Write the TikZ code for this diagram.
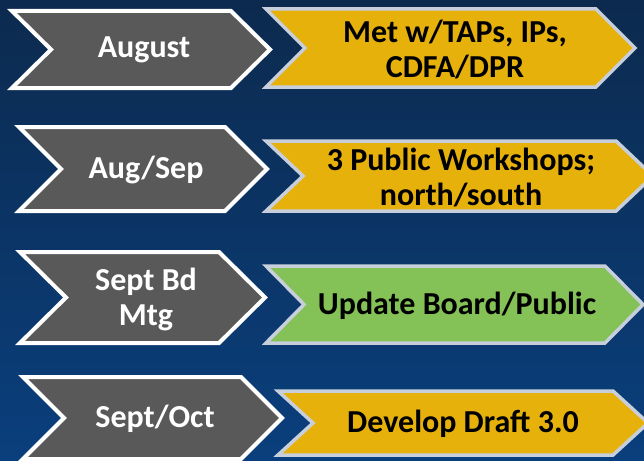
\documentclass[tikz,border=0pt]{standalone}
\usepackage{fontspec}
\setmainfont{Carlito}
\definecolor{bgtop}{HTML}{0C2A4E}
\definecolor{bgbot}{HTML}{0A3F7D}
\definecolor{chevgray}{HTML}{595959}
\definecolor{chevyellow}{HTML}{E6B10B}
\definecolor{chevgreen}{HTML}{84C156}
\definecolor{chevedge}{HTML}{C6CFDB}
\newcommand\chevshape[6]{%
  \draw[#1] (#2,#3) -- (#4-#6,#3) -- (#4,{(#3+#5)/2}) -- (#4-#6,#5) -- (#2,#5) -- (#2+#6,{(#3+#5)/2}) -- cycle;}
\begin{document}
\begin{tikzpicture}[x=1pt,y=-1pt,
  graychev/.style={fill=chevgray,draw=white,line width=4pt,miter limit=10},
  yellowchev/.style={fill=chevyellow,draw=chevedge,line width=3.5pt,miter limit=10},
  greenchev/.style={fill=chevgreen,draw=chevedge,line width=3.5pt,miter limit=10},
  labelbase/.style={font=\bfseries\fontsize{32}{35}\selectfont,align=center,inner sep=0pt},
  graytext/.style={labelbase,text=white},
  darktext/.style={labelbase,text=black}]
\useasboundingbox (0,0) rectangle (644,460);
\clip (0,0) rectangle (644,460);
\shade[top color=bgtop,bottom color=bgbot] (0,0) rectangle (644,460);
% row 1
\chevshape{graychev}{12}{11}{270}{88}{39}
\chevshape{yellowchev}{266}{9}{635}{87}{39}
\node[graytext] (g1) at (144,50) {August};
\node[darktext] (y1) at (455,49) {Met w/TAPs, IPs,\\CDFA/DPR};
% row 2
\chevshape{graychev}{19}{127}{267}{211}{42}
\chevshape{yellowchev}{266}{141}{653}{211}{37}
\node[graytext] (g2) at (146,170) {Aug/Sep};
\node[darktext] (y2) at (461,177) {3 Public Workshops;\\north/south};
% row 3
\chevshape{graychev}{20}{252}{265}{343}{46}
\chevshape{greenchev}{266}{266}{643}{343}{38}
\node[graytext] (g3) at (146,299) {Sept Bd\\Mtg};
\node[darktext] (y3) at (457,306) {Update Board/Public};
% row 4
\chevshape{graychev}{23}{377}{282}{459}{41}
\chevshape{yellowchev}{278}{391}{648}{455}{35}
\node[graytext] (g4) at (155,419) {Sept/Oct};
\node[darktext] (y4) at (463,424) {Develop Draft 3.0};
\end{tikzpicture}
\end{document}
